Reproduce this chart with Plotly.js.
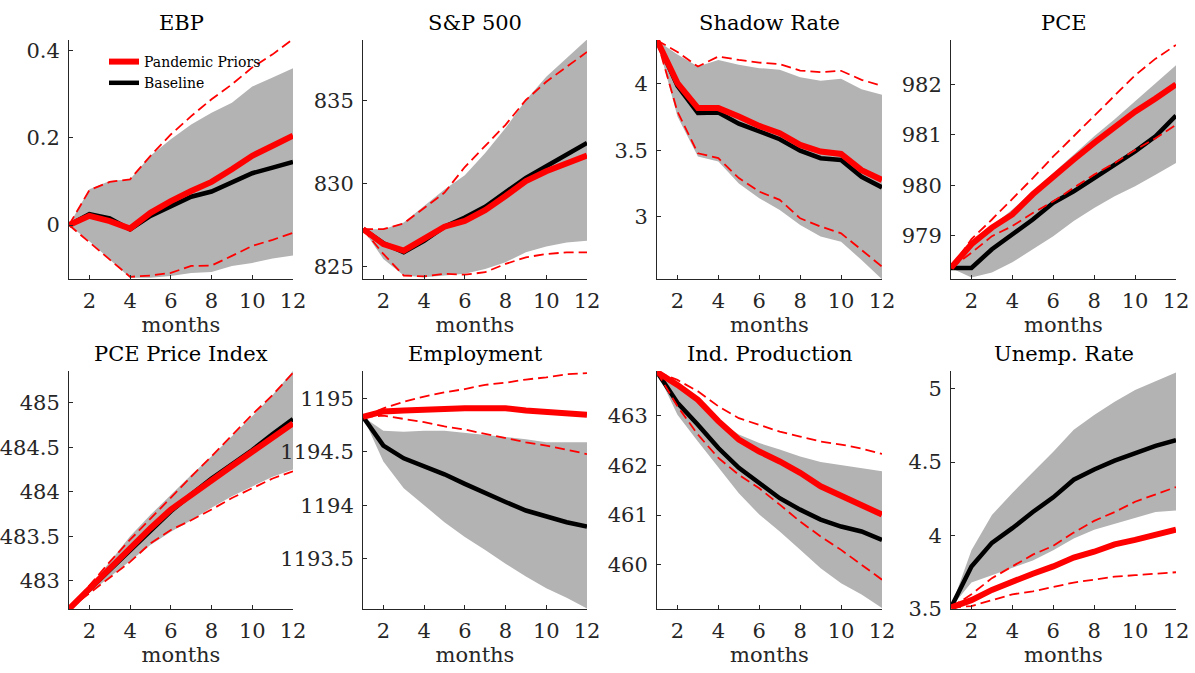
<!DOCTYPE html>
<html>
<head>
<meta charset="utf-8">
<script src="https://cdn.plot.ly/plotly-3.0.1.min.js"></script>
<style>html,body{margin:0;padding:0;background:#fff;}#chart{width:1195px;height:673px;}</style>
</head>
<body>
<div id="chart"></div>
<script>
// ---------- data ----------
const months = [1,2,3,4,5,6,7,8,9,10,11,12];
const titles = ['EBP','S&P 500','Shadow Rate','PCE','PCE Price Index','Employment','Ind. Production','Unemp. Rate'];
const legendNames = ['Pandemic Priors','Baseline'];

// EBP
const ebpPand   = [0,0.021,0.009,-0.008,0.028,0.055,0.078,0.099,0.128,0.159,0.182,0.205];
const ebpBase   = [0,0.025,0.015,-0.010,0.021,0.044,0.065,0.077,0.097,0.119,0.132,0.145];
const ebpBandHi = [0,0.082,0.101,0.105,0.159,0.197,0.231,0.258,0.281,0.318,0.339,0.360];
const ebpBandLo = [0,-0.037,-0.079,-0.121,-0.121,-0.117,-0.110,-0.108,-0.094,-0.087,-0.077,-0.070];
const ebpPandHi = [0,0.080,0.099,0.105,0.159,0.208,0.250,0.289,0.323,0.362,0.392,0.427];
const ebpPandLo = [0,-0.039,-0.079,-0.119,-0.116,-0.110,-0.094,-0.093,-0.071,-0.048,-0.034,-0.018];

// S&P 500
const spPand   = [827.25,826.35,825.95,826.65,827.4,827.75,828.4,829.25,830.15,830.75,831.25,831.7];
const spBase   = [827.25,826.4,825.85,826.55,827.4,827.95,828.6,829.5,830.35,831.05,831.75,832.45];
const spBandHi = [827.25,827.25,827.65,828.65,829.65,830.5,831.85,833.35,835.05,836.45,837.55,838.7];
const spBandLo = [827.25,825.45,824.45,824.35,824.45,824.55,824.85,825.25,825.85,826.2,826.45,826.55];
const spPandHi = [827.25,827.25,827.6,828.55,829.45,831.0,832.25,833.55,835.05,836.15,837.05,837.95];
const spPandLo = [827.25,825.75,824.45,824.4,824.55,824.5,824.65,825.15,825.55,825.75,825.85,825.85];

// Shadow Rate
const srPand   = [4.327,4.005,3.817,3.817,3.754,3.683,3.628,3.54,3.49,3.472,3.35,3.276];
const srBase   = [4.327,3.985,3.78,3.784,3.70,3.64,3.583,3.497,3.44,3.427,3.30,3.22];
const srBandHi = [4.327,4.22,4.13,4.18,4.143,4.118,4.106,4.05,4.023,4.038,3.96,3.917];
const srBandLo = [4.327,3.754,3.452,3.415,3.25,3.138,3.05,2.937,2.85,2.81,2.673,2.528];
const srPandHi = [4.327,4.24,4.13,4.206,4.18,4.16,4.148,4.10,4.088,4.098,4.03,3.985];
const srPandLo = [4.327,3.79,3.477,3.44,3.29,3.188,3.126,2.987,2.925,2.874,2.749,2.623];

// PCE
const pcePand   = [978.36,978.83,979.16,979.42,979.82,980.18,980.51,980.84,981.15,981.46,981.72,982.0];
const pceBase   = [978.36,978.36,978.73,979.03,979.32,979.65,979.88,980.14,980.41,980.67,980.97,981.38];
const pceBandHi = [978.36,978.8,979.19,979.52,979.88,980.24,980.6,980.97,981.31,981.66,982.02,982.38];
const pceBandLo = [978.36,978.17,978.27,978.47,978.73,978.99,979.29,979.55,979.78,979.98,980.21,980.44];
const pcePandHi = [978.36,978.93,979.32,979.72,980.14,980.57,980.97,981.39,981.79,982.18,982.51,982.78];
const pcePandLo = [978.36,978.66,978.99,979.19,979.45,979.68,979.95,980.21,980.44,980.70,980.93,981.2];

// PCE Price Index
const ppiPand   = [482.68,482.91,483.14,483.36,483.59,483.8,483.97,484.14,484.29,484.45,484.62,484.77];
const ppiBase   = [482.68,482.9,483.12,483.34,483.56,483.78,483.97,484.15,484.31,484.47,484.65,484.82];
const ppiBandHi = [482.68,482.93,483.21,483.5,483.74,483.97,484.19,484.4,484.62,484.85,485.09,485.36];
const ppiBandLo = [482.68,482.86,483.03,483.21,483.40,483.55,483.68,483.82,483.95,484.06,484.17,484.25];
const ppiPandHi = [482.68,482.95,483.21,483.46,483.70,483.93,484.17,484.40,484.64,484.87,485.09,485.34];
const ppiPandLo = [482.68,482.86,483.03,483.21,483.42,483.57,483.68,483.80,483.93,484.04,484.15,484.23];

// Employment
const empPand   = [1194.83,1194.88,1194.89,1194.9,1194.91,1194.91,1194.91,1194.91,1194.89,1194.88,1194.87,1194.85];
const empBase   = [1194.83,1194.56,1194.44,1194.37,1194.29,1194.2,1194.11,1194.03,1193.95,1193.89,1193.84,1193.8];
const empBandHi = [1194.83,1194.70,1194.69,1194.70,1194.70,1194.68,1194.66,1194.64,1194.62,1194.59,1194.59,1194.59];
const empBandLo = [1194.83,1194.41,1194.16,1194.0,1193.84,1193.70,1193.58,1193.45,1193.33,1193.22,1193.13,1193.03];
const empPandHi = [1194.83,1194.91,1194.97,1195.02,1195.06,1195.09,1195.13,1195.15,1195.18,1195.2,1195.23,1195.24];
const empPandLo = [1194.83,1194.84,1194.81,1194.78,1194.74,1194.71,1194.67,1194.63,1194.59,1194.56,1194.52,1194.48];

// Ind. Production
const ipPand   = [463.88,463.62,463.32,462.89,462.52,462.28,462.08,461.85,461.58,461.38,461.21,461.01];
const ipBase   = [463.88,463.26,462.82,462.35,461.95,461.64,461.34,461.11,460.91,460.77,460.67,460.5];
const ipBandHi = [463.88,463.66,463.32,462.9,462.62,462.45,462.32,462.18,462.07,462.01,461.95,461.88];
const ipBandLo = [463.88,463.02,462.48,461.95,461.44,461.01,460.67,460.30,459.93,459.63,459.4,459.13];
const ipPandHi = [463.88,463.72,463.49,463.19,462.95,462.82,462.68,462.58,462.48,462.42,462.34,462.23];
const ipPandLo = [463.88,463.19,462.62,462.15,461.81,461.54,461.21,460.87,460.57,460.3,460.0,459.7];

// Unemp. Rate
const urPand   = [3.51,3.56,3.63,3.69,3.74,3.79,3.85,3.89,3.94,3.97,4.0,4.04];
const urBase   = [3.51,3.79,3.95,4.05,4.16,4.26,4.38,4.45,4.51,4.56,4.61,4.65];
const urBandHi = [3.51,3.90,4.14,4.29,4.43,4.57,4.72,4.82,4.91,4.99,5.05,5.11];
const urBandLo = [3.51,3.68,3.73,3.78,3.83,3.90,3.98,4.04,4.08,4.12,4.16,4.17];
const urPandHi = [3.51,3.60,3.71,3.79,3.87,3.93,4.02,4.10,4.16,4.23,4.28,4.33];
const urPandLo = [3.51,3.52,3.56,3.60,3.62,3.65,3.68,3.70,3.72,3.73,3.74,3.75];

const yRanges = [[-0.124,0.425],[824.24,838.67],[2.53,4.33],[978.14,982.88],
                 [482.68,485.36],[1193.025,1195.26],[459.11,463.9],[3.5,5.12]];
const yTicks = [[0,0.2,0.4],[825,830,835],[3,3.5,4],[979,980,981,982],
                [483,483.5,484,484.5,485],[1193.5,1194,1194.5,1195],[460,461,462,463],[3.5,4,4.5,5]];

const panels = [
  [ebpPand,ebpBase,ebpBandHi,ebpBandLo,ebpPandHi,ebpPandLo],
  [spPand,spBase,spBandHi,spBandLo,spPandHi,spPandLo],
  [srPand,srBase,srBandHi,srBandLo,srPandHi,srPandLo],
  [pcePand,pceBase,pceBandHi,pceBandLo,pcePandHi,pcePandLo],
  [ppiPand,ppiBase,ppiBandHi,ppiBandLo,ppiPandHi,ppiPandLo],
  [empPand,empBase,empBandHi,empBandLo,empPandHi,empPandLo],
  [ipPand,ipBase,ipBandHi,ipBandLo,ipPandHi,ipPandLo],
  [urPand,urBase,urBandHi,urBandLo,urPandHi,urPandLo]
];

// ---------- layout geometry (pixels) ----------
const W = 1195, H = 673;
const colPx = [[69,293],[363,587],[657,882],[951,1176]];
const rowPx = [[40,279],[371,609]];
const FONT = 'DejaVu Serif';
const AX = '#262626';

const traces = [];
const layout = {
  width: W, height: H,
  margin: {l:0,r:0,t:0,b:0},
  paper_bgcolor: '#fff', plot_bgcolor: 'rgba(0,0,0,0)',
  font: {family: FONT, color: AX, size: 21},
  showlegend: true,
  legend: {x: 104/W, y: 1-46/H, xanchor:'left', yanchor:'top', bgcolor:'rgba(0,0,0,0)',
           borderwidth:0, traceorder:'reversed', font:{family:FONT, size:14, color:'#000'}, tracegroupgap:0},
  annotations: []
};

panels.forEach((p, i) => {
  const r = Math.floor(i/4), c = i%4;
  const xa = i===0 ? 'x' : 'x'+(i+1);
  const ya = i===0 ? 'y' : 'y'+(i+1);
  const xKey = i===0 ? 'xaxis' : 'xaxis'+(i+1);
  const yKey = i===0 ? 'yaxis' : 'yaxis'+(i+1);
  const [pand, base, bHi, bLo, pHi, pLo] = p;
  traces.push({x: months, y: bLo, xaxis: xa, yaxis: ya, mode:'lines', line:{width:0, color:'#b3b3b3'}, showlegend:false, hoverinfo:'skip'});
  traces.push({x: months, y: bHi, xaxis: xa, yaxis: ya, mode:'lines', line:{width:0, color:'#b3b3b3'}, fill:'tonexty', fillcolor:'#b3b3b3', showlegend:false, hoverinfo:'skip'});
  traces.push({x: months, y: base, xaxis: xa, yaxis: ya, mode:'lines', line:{width:4.5, color:'#000'}, name: legendNames[1], showlegend: i===0});
  traces.push({x: months, y: pand, xaxis: xa, yaxis: ya, mode:'lines', line:{width:6, color:'#ff0000'}, name: legendNames[0], showlegend: i===0});
  traces.push({x: months, y: pHi, xaxis: xa, yaxis: ya, mode:'lines', line:{width:1.8, color:'#ff0000', dash:'10px,5px'}, showlegend:false});
  traces.push({x: months, y: pLo, xaxis: xa, yaxis: ya, mode:'lines', line:{width:1.8, color:'#ff0000', dash:'10px,5px'}, showlegend:false});

  const xd = [colPx[c][0]/W, colPx[c][1]/W];
  const yd = [1-rowPx[r][1]/H, 1-rowPx[r][0]/H];
  layout[xKey] = {
    domain: xd, anchor: ya, range: [1,12], tickvals:[2,4,6,8,10,12],
    ticks:'inside', ticklen:4, tickcolor:AX, showline:true, linecolor:AX, linewidth:1,
    showgrid:false, zeroline:false, automargin:false, ticklabelstandoff:3,
    tickfont:{family:FONT,size:21,color:AX},
    title:{text:'months', font:{family:FONT,size:21,color:AX}, standoff:1}
  };
  layout[yKey] = {
    domain: yd, anchor: xa, range: yRanges[i], tickvals: yTicks[i], ticktext: yTicks[i].map(String),
    ticks:'inside', ticklen:4, tickcolor:AX, showline:true, linecolor:AX, linewidth:1,
    showgrid:false, zeroline:false, automargin:false, ticklabelstandoff:4,
    tickfont:{family:FONT,size:21,color:AX}
  };
  layout.annotations.push({
    text: titles[i], xref:'paper', yref:'paper',
    x: (xd[0]+xd[1])/2, y: yd[1], xanchor:'center', yanchor:'bottom', yshift:3,
    showarrow:false, font:{family:FONT,size:21,color:'#000'}
  });
});

Plotly.newPlot('chart', traces, layout, {displayModeBar:false, staticPlot:true});
</script>
</body>
</html>
